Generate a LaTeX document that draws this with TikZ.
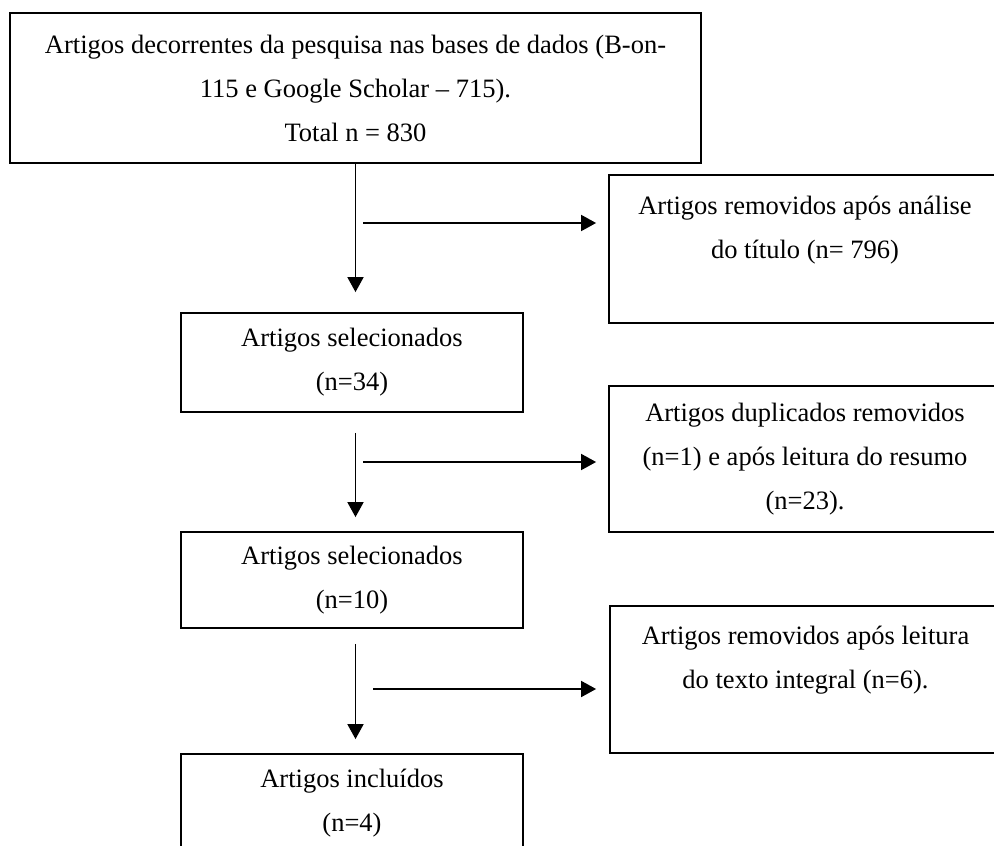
\documentclass[tikz,border=0pt]{standalone}
\usepackage{fontspec}
\setmainfont{Liberation Serif}
\usetikzlibrary{arrows.meta}
\begin{document}
\begin{tikzpicture}[x=1pt,y=-1pt,
  box/.style={draw, line width=1.8pt, inner sep=0pt, align=center,
    font=\fontsize{26.5}{44}\selectfont},
  arr/.style={line width=1.8pt, -{Triangle[length=15pt,width=16pt]}}]
\clip (0,0) rectangle (994,846);
\fill[white] (0,0) rectangle (994,846);
% main column
\node[box, minimum width=691pt, minimum height=150pt] (T) at (355.5,88)
  {Artigos decorrentes da pesquisa nas bases de dados (B-on-\\115 e Google Scholar -- 715).\\Total n = 830};
\node[box, minimum width=342pt, minimum height=99pt] (B2) at (352,362.5)
  {Artigos selecionados\\(n=34)};
\node[box, minimum width=342pt, minimum height=96pt] (B3) at (352,580)
  {Artigos selecionados\\(n=10)};
\node[box, minimum width=342pt, minimum height=99pt] (B4) at (352,803.5)
  {Artigos incluídos\\(n=4)};
% side boxes
\node[box, minimum width=392pt, minimum height=148pt] (R1) at (805,249)
  {Artigos removidos após análise\\do título (n= 796)\\~};
\node[box, minimum width=392pt, minimum height=146pt] (R2) at (805,459)
  {Artigos duplicados removidos\\(n=1) e após leitura do resumo\\(n=23).};
\node[box, minimum width=391pt, minimum height=147pt] (R3) at (805.5,679.5)
  {Artigos removidos após leitura\\do texto integral (n=6).\\~};
% vertical arrows
\draw[arr, shorten >=20pt] (T.south) -- (T.south |- B2.north);
\draw[arr, shorten <=20pt, shorten >=14pt] (B2.south -| T.south) -- (B3.north -| T.south);
\draw[arr, shorten <=15pt, shorten >=14pt] (B3.south -| T.south) -- (B4.north -| T.south);
% horizontal arrows
\coordinate (h1) at (363,223);
\coordinate (h2) at (363,462);
\coordinate (h3) at (373,689);
\draw[arr, shorten >=12pt] (h1) -- (h1 -| R1.west);
\draw[arr, shorten >=12pt] (h2) -- (h2 -| R2.west);
\draw[arr, shorten >=13pt] (h3) -- (h3 -| R3.west);
\end{tikzpicture}
\end{document}
